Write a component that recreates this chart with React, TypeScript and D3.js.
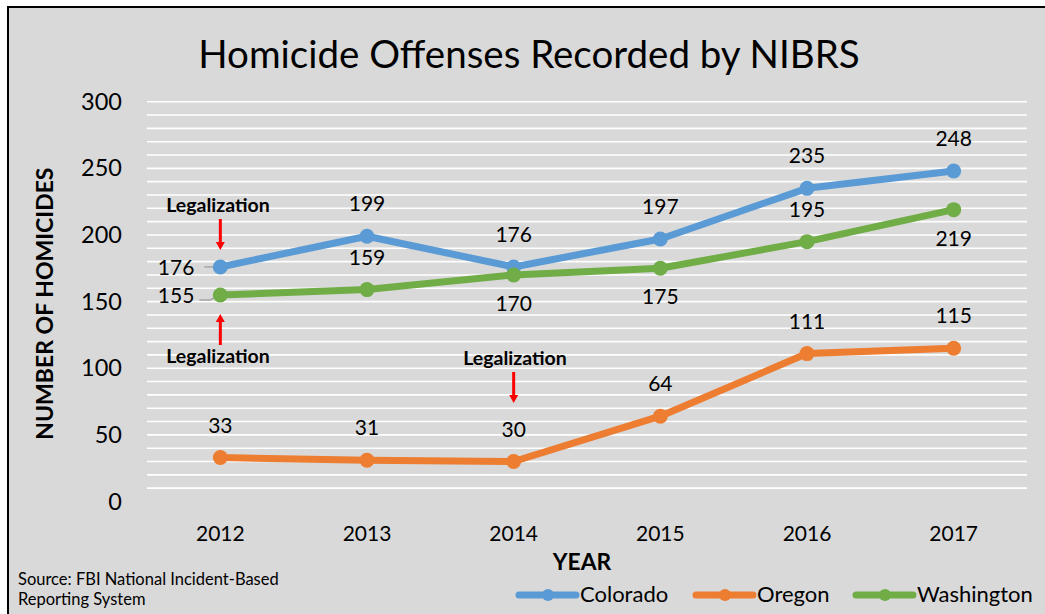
import React from 'react';
import * as d3 from 'd3';

// chart data
const years = ['2012', '2013', '2014', '2015', '2016', '2017'];
const colorado = [176, 199, 176, 197, 235, 248];
const oregon = [33, 31, 30, 64, 111, 115];
const washington = [155, 159, 170, 175, 195, 219];
const yTicks = [0, 50, 100, 150, 200, 250, 300];

// where each value label sits relative to its point
const coloradoLabelPos = ['left', 'above', 'above', 'above', 'above', 'above'];
const oregonLabelPos = ['above', 'above', 'above', 'above', 'above', 'above'];
const washingtonLabelPos = ['left', 'above', 'below', 'below', 'above', 'below'];

const series = [
  { name: 'Colorado', values: colorado, color: '#5b9bd5', labels: coloradoLabelPos },
  { name: 'Oregon', values: oregon, color: '#ed7d31', labels: oregonLabelPos },
  { name: 'Washington', values: washington, color: '#70ad47', labels: washingtonLabelPos },
];

const W = 1045;
const H = 614;
const plot = { left: 147, right: 1027, top: 101.7, bottom: 501.5 };
const FONT = 'Lato, "Open Sans", sans-serif';

const Arrow = ({ x, y1, y2 }: { x: number; y1: number; y2: number }) => {
  // y2 is the tip
  const dir = y2 > y1 ? 1 : -1;
  const head = 8;
  return (
    <g>
      <line x1={x} x2={x} y1={y1} y2={y2 - dir * head} stroke="#ff0000" strokeWidth={3} />
      <path
        d={`M${x - 4.5},${y2 - dir * head} L${x + 4.5},${y2 - dir * head} L${x},${y2} Z`}
        fill="#ff0000"
      />
    </g>
  );
};

const App = () => {
  const x = d3.scaleBand().domain(years).range([plot.left, plot.right]);
  const cx = (yr: string) => (x(yr) as number) + x.bandwidth() / 2;
  const y = d3.scaleLinear().domain([0, 300]).range([plot.bottom, plot.top]);
  const line = d3
    .line<number>()
    .x((_, i) => cx(years[i]))
    .y((d) => y(d));

  const minor = d3.range(10, 301, 10);

  const labelXY = (pos: string, i: number, v: number) => {
    const px = cx(years[i]);
    const py = y(v);
    if (pos === 'above') return { x: px, y: py - 25, anchor: 'middle' };
    if (pos === 'below') return { x: px, y: py + 36, anchor: 'middle' };
    return { x: px - 26, y: py + 8, anchor: 'end' };
  };

  const legendItems = [
    { s: series[0], x0: 519 },
    { s: series[1], x0: 696 },
    { s: series[2], x0: 856 },
  ];

  return (
    <svg width={W} height={H} style={{ position: 'absolute', left: 0, top: 0 }} fontFamily={FONT}>
      <rect x={0} y={0} width={W} height={H} fill="#ffffff" />
      <rect x={8} y={7} width={W + 10} height={H + 10} fill="#d9d9d9" stroke="#000" strokeWidth={2} />

      <text x={529} y={68} textAnchor="middle" fontSize={38.5} fill="#000">
        Homicide Offenses Recorded by NIBRS
      </text>

      {/* gridlines */}
      {minor.map((v) => (
        <line key={v} x1={plot.left} x2={plot.right} y1={y(v)} y2={y(v)} stroke="#ffffff" strokeWidth={1.6} />
      ))}

      {/* y axis labels */}
      {yTicks.map((v) => (
        <text key={v} x={122} y={y(v) + 8} textAnchor="end" fontSize={23.5} fill="#000">
          {v}
        </text>
      ))}
      <text
        transform={`translate(53,${(plot.top + plot.bottom) / 2 + 2}) rotate(-90)`}
        textAnchor="middle"
        fontSize={23}
        fontWeight="bold"
        fill="#000"
      >
        NUMBER OF HOMICIDES
      </text>

      {/* x axis labels */}
      {years.map((yr) => (
        <text key={yr} x={cx(yr)} y={541} textAnchor="middle" fontSize={21} fill="#000">
          {yr}
        </text>
      ))}
      <text x={582} y={570} textAnchor="middle" fontSize={22.8} fontWeight="bold" fill="#000">
        YEAR
      </text>

      {/* leader lines for left labels */}
      <line x1={cx(years[0]) - 16} x2={cx(years[0]) - 5} y1={y(colorado[0])} y2={y(colorado[0])} stroke="#a6a6a6" strokeWidth={1.5} />
      <path
        d={`M${cx(years[0]) - 21},${y(washington[0]) + 5} L${cx(years[0]) - 10},${y(washington[0]) + 5} L${cx(years[0]) - 3},${y(washington[0]) + 1}`}
        fill="none"
        stroke="#a6a6a6"
        strokeWidth={1.5}
      />

      {/* lines */}
      {series.map((s) => (
        <g key={s.name}>
          <path d={line(s.values) || ''} fill="none" stroke={s.color} strokeWidth={7} strokeLinejoin="round" />
          {s.values.map((v, i) => (
            <circle key={i} cx={cx(years[i])} cy={y(v)} r={7.5} fill={s.color} />
          ))}
        </g>
      ))}

      {/* value labels */}
      {series.map((s) =>
        s.values.map((v, i) => {
          const p = labelXY(s.labels[i], i, v);
          return (
            <text key={s.name + i} x={p.x} y={p.y} textAnchor={p.anchor} fontSize={21} fill="#000">
              {v}
            </text>
          );
        })
      )}

      {/* legalization annotations */}
      <text x={218} y={212} textAnchor="middle" fontSize={19.5} fontWeight="bold" fill="#000">
        Legalization
      </text>
      <Arrow x={cx(years[0])} y1={219} y2={y(colorado[0]) - 17} />
      <Arrow x={cx(years[0])} y1={345} y2={y(washington[0]) + 19} />
      <text x={218} y={363} textAnchor="middle" fontSize={19.5} fontWeight="bold" fill="#000">
        Legalization
      </text>
      <text x={515} y={365} textAnchor="middle" fontSize={19.5} fontWeight="bold" fill="#000">
        Legalization
      </text>
      <Arrow x={cx(years[2])} y1={372} y2={403} />

      {/* legend */}
      {legendItems.map(({ s, x0 }) => (
        <g key={s.name}>
          <line x1={x0} x2={x0 + 57} y1={595} y2={595} stroke={s.color} strokeWidth={7} strokeLinecap="round" />
          <circle cx={x0 + 29} cy={595} r={6} fill={s.color} />
          <text x={x0 + 61} y={602} fontSize={22} fill="#000">
            {s.name}
          </text>
        </g>
      ))}

      {/* source */}
      <text x={18} y={584.5} fontSize={16.5} fill="#000">
        Source: FBI National Incident-Based
      </text>
      <text x={18} y={604.5} fontSize={16.5} fill="#000">
        Reporting System
      </text>
    </svg>
  );
};

export default App;
